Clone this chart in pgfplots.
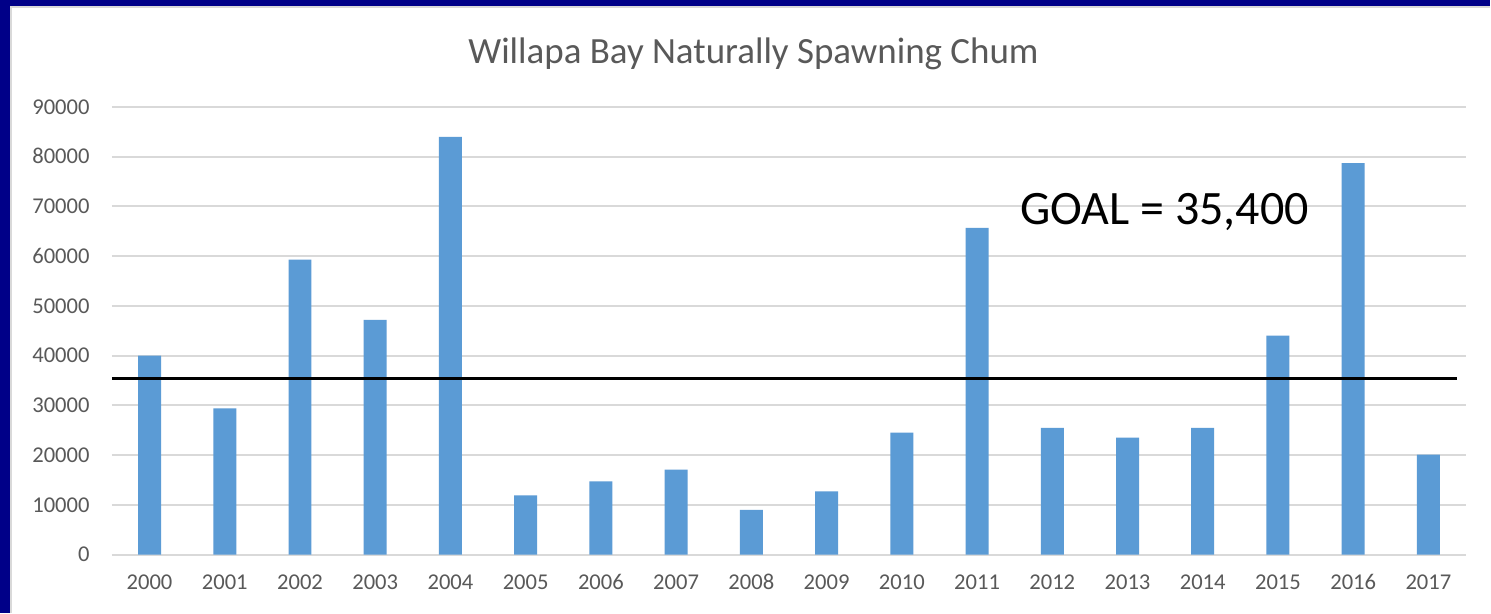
\documentclass[border=0pt]{standalone}
\usepackage{fontspec}
\setmainfont{Carlito}
\usepackage{pgfplots}
\pgfplotsset{compat=1.18}
\definecolor{navyb}{HTML}{000088}
\definecolor{barblue}{HTML}{5B9BD5}
\definecolor{gridgray}{HTML}{D9D9D9}
\definecolor{textgray}{HTML}{595959}
\begin{document}
\begin{tikzpicture}[x=0.5pt,y=0.5pt]
\fill[navyb] (0,0) rectangle (1491,613);
\fill[white] (10,0) rectangle (1491,606);
\draw[gridgray, line width=1pt] (11,0) -- (11,605.5) -- (1491,605.5);
\begin{axis}[
  at={(56pt,29pt)}, anchor=south west,
  scale only axis, width=677.5pt, height=224pt,
  xmin=-0.5, xmax=17.5, ymin=0, ymax=90000,
  ytick={0,10000,...,90000},
  xtick={0,...,17},
  xticklabels={2000,2001,2002,2003,2004,2005,2006,2007,2008,2009,2010,2011,2012,2013,2014,2015,2016,2017},
  ymajorgrids, grid style={gridgray, line width=1pt},
  axis line style={draw=none},
  major tick length=0pt,
  scaled y ticks=false,
  /pgf/number format/assume math mode=true,
  /pgf/number format/set thousands separator={},
  yticklabel style={text=textgray, font=\fontsize{11.3}{13}\selectfont, anchor=base east, inner sep=0pt, xshift=-11pt, yshift=-3.6pt},
  xticklabel style={text=textgray, font=\fontsize{11.3}{13}\selectfont, anchor=base, inner sep=0pt, yshift=-17.5pt},
  clip=false,
]
\addplot[ybar, bar width=11.5pt, fill=barblue, draw=none] coordinates {
(0,40000) (1,29400) (2,59300) (3,47200) (4,84000) (5,11900) (6,14700) (7,17100) (8,9000)
(9,12700) (10,24500) (11,65700) (12,25500) (13,23500) (14,25500) (15,44000) (16,78700) (17,20100)};
\addplot[black, line width=1.5pt] coordinates {(-0.5,35400) (17.38,35400)};
\node[font=\fontsize{24}{28}\selectfont, text=black] at (axis cs:13.49,68900) {GOAL = 35,400};
\end{axis}
\node[text=textgray, font=\fontsize{18.5}{22}\selectfont] at (754,559) {Willapa Bay Naturally Spawning Chum};
\end{tikzpicture}
\end{document}
